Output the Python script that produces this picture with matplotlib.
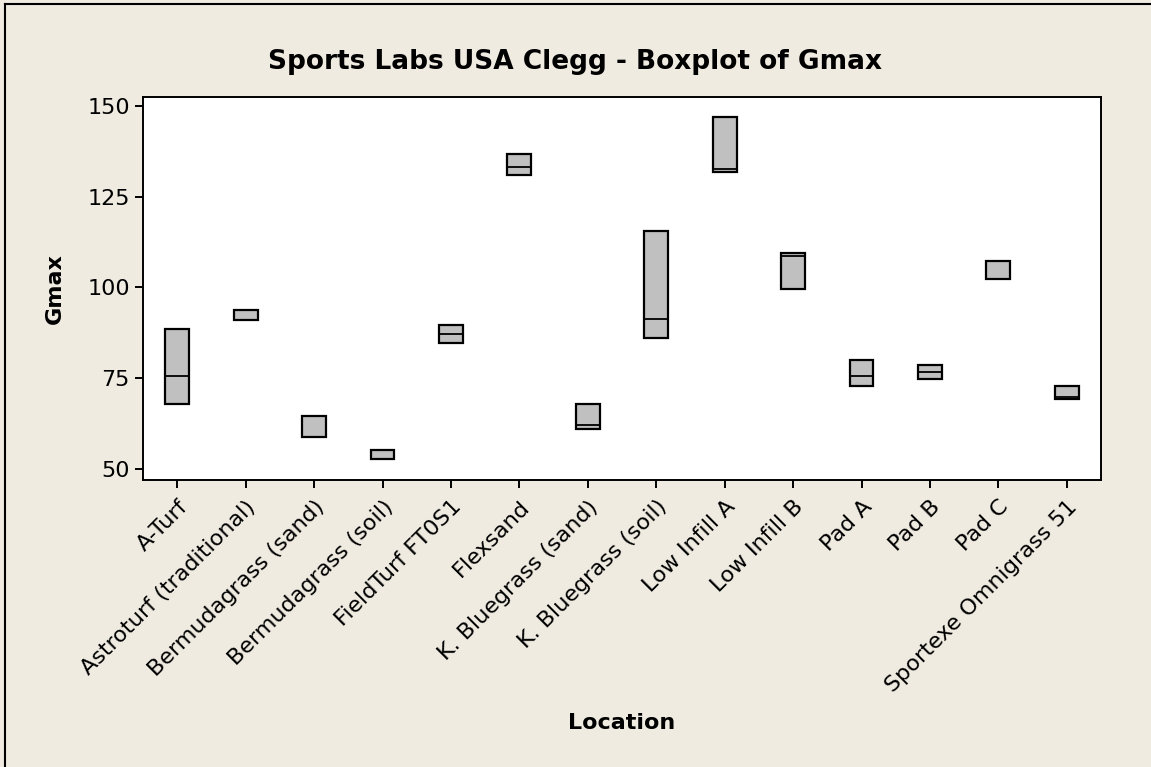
import matplotlib
matplotlib.use("Agg")
import matplotlib.pyplot as plt
from matplotlib.lines import Line2D

# Gmax by location
locations = ["A-Turf", "Astroturf (traditional)", "Bermudagrass (sand)",
             "Bermudagrass (soil)", "FieldTurf FT0S1", "Flexsand",
             "K. Bluegrass (sand)", "K. Bluegrass (soil)", "Low Infill A",
             "Low Infill B", "Pad A", "Pad B", "Pad C", "Sportexe Omnigrass 51"]
q1 = [67.8, 90.9, 58.8, 52.8, 84.8, 131.1, 61.0, 86.0, 131.8, 99.7, 72.7, 74.8, 102.3, 69.3]
med = [75.5, 90.9, 58.8, 52.8, 87.1, 133.3, 62.1, 91.4, 132.6, 108.7, 75.5, 76.6, 102.3, 69.7]
q3 = [88.6, 93.7, 64.5, 55.1, 89.7, 136.7, 67.8, 115.7, 147.1, 109.6, 79.9, 78.7, 107.4, 72.7]
yticks = [50, 75, 100, 125, 150]

bg = "#efebe1"
plt.rcParams['font.family'] = ['DejaVu Sans']

fig = plt.figure(figsize=(11.51, 7.67), dpi=100, facecolor=bg)
ax = fig.add_axes([143/1151, 1 - 480/767, (1101 - 143)/1151, (480 - 96.7)/767])

stats = []
for i in range(len(locations)):
    stats.append({"med": med[i], "q1": q1[i], "q3": q3[i],
                  "whislo": q1[i], "whishi": q3[i], "fliers": []})

ax.bxp(stats, positions=range(1, len(locations) + 1), widths=0.35,
       patch_artist=True, showfliers=False, showcaps=False,
       boxprops=dict(facecolor="#c0c0c0", edgecolor="black", linewidth=1.6),
       medianprops=dict(color="black", linewidth=1.3),
       whiskerprops=dict(color="black", linewidth=1.0))

ax.set_xlim(0.5, len(locations) + 0.5)
ax.set_ylim(46.9, 152.6)
ax.set_yticks(yticks)
ax.set_xticks(range(1, len(locations) + 1))
ax.set_xticklabels(locations, rotation=45, ha="right", rotation_mode="anchor")
ax.tick_params(labelsize=16, length=6, width=1.4, direction="out")
ax.tick_params(axis="x", pad=6)
for s in ax.spines.values():
    s.set_linewidth(1.4)
ax.set_facecolor("white")

fig.text(575/1151, 1 - 62/767, "Sports Labs USA Clegg - Boxplot of Gmax",
         ha="center", va="center", fontsize=19, fontweight="bold")
fig.text(622/1151, 1 - 723/767, "Location", ha="center", va="center",
         fontsize=16, fontweight="bold")
fig.text(55/1151, 1 - 289/767, "Gmax", ha="center", va="center",
         fontsize=16, fontweight="bold", rotation=90)

# outer frame (only left and top edges show in the original)
fig.add_artist(Line2D([4.5/1151, 4.5/1151], [0, 1 - 4/767], color="black", lw=1.5))
fig.add_artist(Line2D([4.5/1151, 1], [1 - 4/767, 1 - 4/767], color="black", lw=1.5))

fig.savefig("out.png", dpi=100, facecolor=bg)
